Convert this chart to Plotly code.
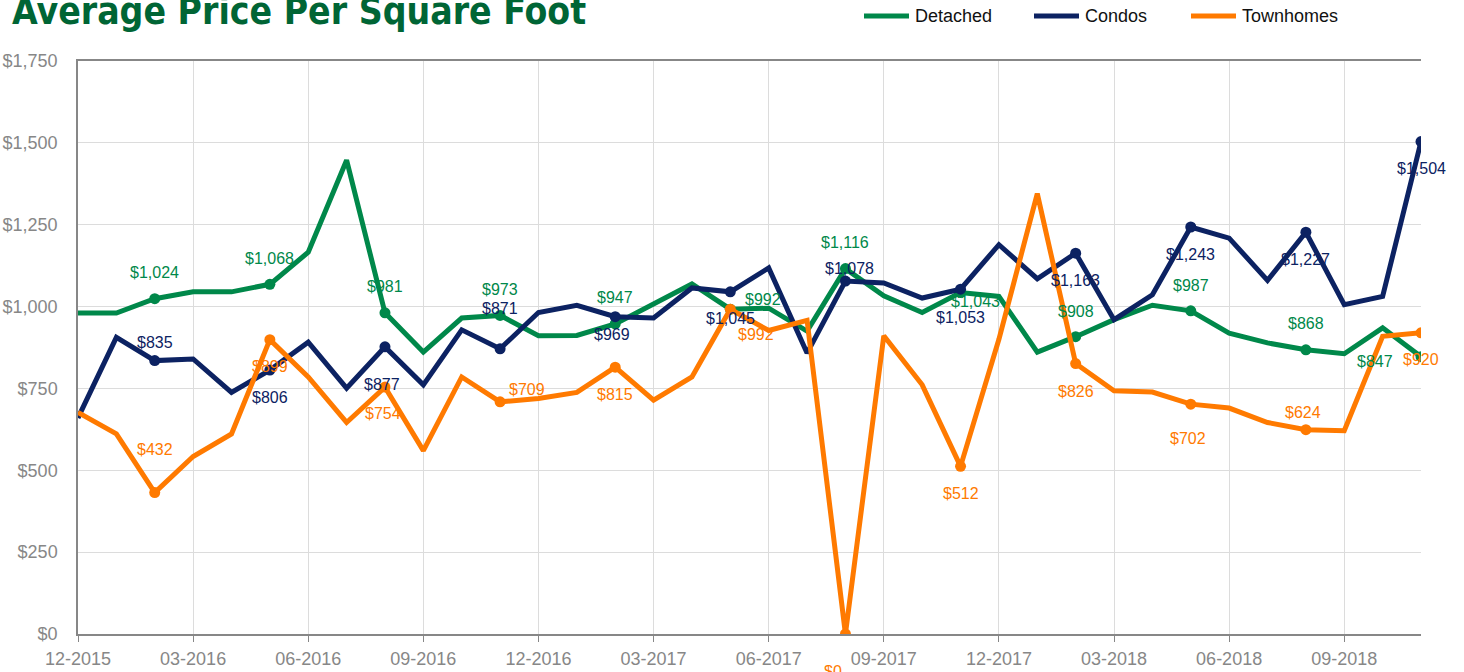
import plotly.graph_objects as go

# ---------------- data ----------------
months = ["12-2015", "01-2016", "02-2016", "03-2016", "04-2016", "05-2016", "06-2016", "07-2016",
          "08-2016", "09-2016", "10-2016", "11-2016", "12-2016", "01-2017", "02-2017", "03-2017",
          "04-2017", "05-2017", "06-2017", "07-2017", "08-2017", "09-2017", "10-2017", "11-2017",
          "12-2017", "01-2018", "02-2018", "03-2018", "04-2018", "05-2018", "06-2018", "07-2018",
          "08-2018", "09-2018", "10-2018", "11-2018"]

detached = [980, 980, 1024, 1045, 1045, 1068, 1166, 1447, 981, 861, 965, 973,
            911, 912, 947, 1006, 1069, 992, 995, 925, 1116, 1033, 982, 1043,
            1031, 861, 908, 960, 1004, 987, 919, 889, 868, 856, 935, 847]

condos = [660, 906, 835, 840, 738, 806, 891, 751, 877, 761, 929, 871,
          982, 1004, 969, 965, 1057, 1045, 1118, 858, 1078, 1072, 1026, 1053,
          1189, 1085, 1163, 960, 1036, 1243, 1209, 1080, 1227, 1006, 1031, 1504]

townhomes = [677, 611, 432, 542, 611, 899, 785, 646, 754, 560, 785, 709,
             719, 738, 815, 714, 785, 992, 927, 958, 0, 911, 761, 512,
             900, 1345, 826, 743, 739, 702, 690, 646, 624, 621, 909, 920]

tick_labels = ["12-2015", "03-2016", "06-2016", "09-2016", "12-2016", "03-2017",
               "06-2017", "09-2017", "12-2017", "03-2018", "06-2018", "09-2018"]

labelled_idx = list(range(2, len(months), 3))

# ---------------- styling ----------------
GREEN = "#00884A"
NAVY = "#0C2262"
ORANGE = "#FF7A00"
GRAY = "#878787"

# label offsets (dx, dy in px, dy positive = downward) for each labelled point
offsets = {
    "Detached": [(0, -26), (0, -26), (0, -26), (0, -26), (0, -26), (33, -10),
                 (0, -26), (15, 9), (0, -25), (0, -25), (0, -26), (-46, 5)],
    "Condos": [(0, -18), (0, 27), (-3, 38), (0, -40), (-3, 18), (0, 27),
               (4, -13), (0, 28), (0, 27), (0, 27), (0, 27), (0, 27)],
    "Townhomes": [(0, -43), (0, 27), (-2, 26), (27, -12), (0, 27), (26, 25),
                  (-12, 37), (0, 27), (0, 28), (-3, 34), (-3, -17), (0, 27)],
}

series = [("Detached", detached, GREEN), ("Condos", condos, NAVY), ("Townhomes", townhomes, ORANGE)]

fig = go.Figure()
annotations = []
for name, vals, col in series:
    fig.add_trace(go.Scatter(x=months, y=vals, mode="lines", name=name,
                             line=dict(color=col, width=5), showlegend=False,
                             hoverinfo="skip"))
    fig.add_trace(go.Scatter(x=[months[i] for i in labelled_idx],
                             y=[vals[i] for i in labelled_idx],
                             mode="markers", marker=dict(color=col, size=11),
                             showlegend=False, name=name))
    for k, i in enumerate(labelled_idx):
        dx, dy = offsets[name][k]
        annotations.append(dict(x=months[i], y=vals[i], xref="x", yref="y",
                                text="${:,}".format(vals[i]), showarrow=False,
                                xshift=dx, yshift=-dy,
                                font=dict(family="Liberation Sans, Arial, sans-serif",
                                          size=16, color=col)))

# ---------------- layout geometry ----------------
# screen plot area: x 78..1421, y 61..634 (body margin removed by post_script)
W, H = 1464, 672
SL, ST, SR, SB = 78, 61, 1421, 634
L, T = SL, ST
R, B = W - SR, H - SB
pw, ph = SR - SL, SB - ST


def px_x(sx):
    return (sx - SL) / pw


def px_y(sy):
    return 1 - (sy - ST) / ph


# title
annotations.append(dict(text="<b>Average Price Per Square Foot</b>", xref="paper", yref="paper",
                        x=px_x(10), y=px_y(35), xanchor="left", yanchor="bottom",
                        showarrow=False,
                        font=dict(family="DejaVu Sans Condensed, Liberation Sans Narrow, sans-serif",
                                  size=37, color="#006535")))

# custom legend
shapes = []
legend_items = [("Detached", GREEN, 864, 913), ("Condos", NAVY, 1034, 1083), ("Townhomes", ORANGE, 1191, 1240)]
for name, col, lx, tx in legend_items:
    shapes.append(dict(type="line", xref="paper", yref="paper",
                       x0=px_x(lx), x1=px_x(lx + 45), y0=px_y(16), y1=px_y(16),
                       line=dict(color=col, width=5)))
    annotations.append(dict(text=name, xref="paper", yref="paper", x=px_x(tx), y=px_y(16),
                            xanchor="left", yanchor="middle", showarrow=False,
                            font=dict(family="Liberation Sans, Arial, sans-serif", size=18, color="#111111")))

fig.update_layout(
    width=W, height=H,
    margin=dict(l=L, r=R, t=T, b=B, autoexpand=False),
    paper_bgcolor="white", plot_bgcolor="white",
    showlegend=False, hovermode=False,
    annotations=annotations,
    shapes=shapes,
    font=dict(family="Liberation Sans, Arial, sans-serif"),
)

fig.update_xaxes(type="category", categoryorder="array", categoryarray=months,
                 range=[0, len(months) - 1], automargin=False,
                 tickmode="array", tickvals=tick_labels, ticktext=tick_labels,
                 showgrid=True, gridcolor="#dcdcdc", gridwidth=1,
                 showline=True, linecolor=GRAY, linewidth=1.5, mirror=True,
                 ticks="outside", ticklen=6, tickcolor=GRAY,
                 tickfont=dict(size=18, color=GRAY), ticklabelstandoff=2)

fig.update_yaxes(range=[0, 1750], dtick=250, tick0=0, tickprefix="$", tickformat=",",
                 automargin=False,
                 showgrid=True, gridcolor="#dcdcdc", gridwidth=1,
                 showline=True, linecolor=GRAY, linewidth=1.5, zeroline=False,
                 ticks="", tickfont=dict(size=18, color=GRAY), ticklabelstandoff=15)

fig.write_html("out.html", config={"displayModeBar": False},
               post_script="document.body.style.margin='0';document.body.style.overflow='hidden';")
